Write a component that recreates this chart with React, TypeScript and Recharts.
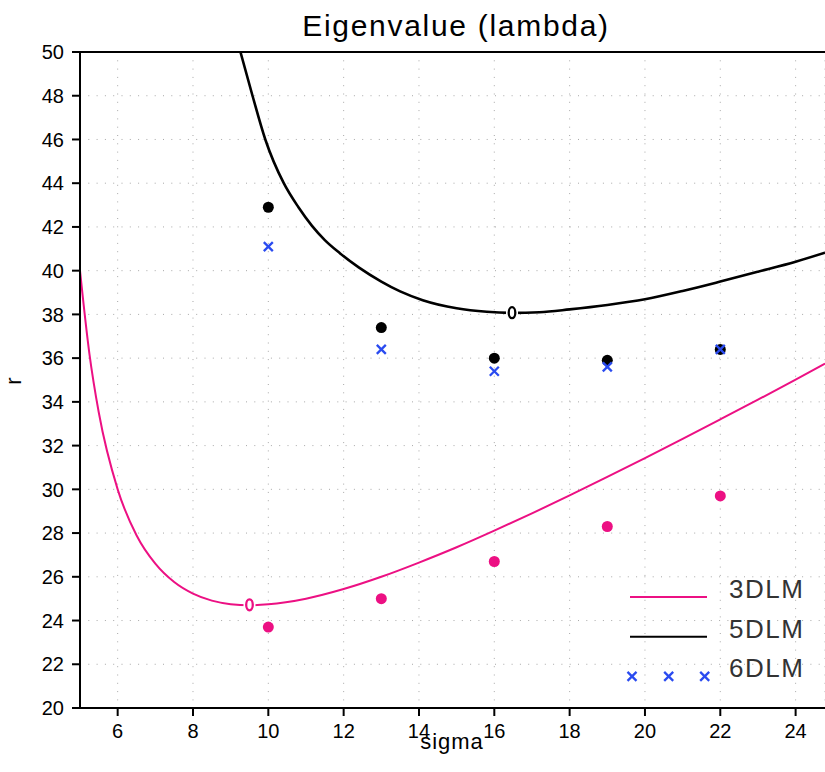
import React from "react";
import {
  ComposedChart,
  Line,
  Scatter,
  XAxis,
  YAxis,
  CartesianGrid,
  ReferenceLine,
  Legend,
} from "recharts";

// 3DLM critical curve
const sigma3 = [5, 5.25, 5.5, 6, 6.5, 7, 7.5, 8, 8.5, 9, 9.5, 10, 11, 12, 13, 14, 15, 16, 17, 18, 19, 20, 21, 22, 23, 24, 24.78];
const r3 = [40.0, 36.2, 33.5, 30.0, 27.9, 26.6, 25.76, 25.23, 24.91, 24.75, 24.7, 24.74, 25.0, 25.44, 26.0, 26.65, 27.35, 28.11, 28.9, 29.72, 30.57, 31.43, 32.31, 33.2, 34.1, 35.02, 35.75];

// 5DLM critical curve
const sigma5 = [9.26, 9.58, 9.92, 10.41, 10.8, 11.16, 11.5, 11.9, 12.4, 13.0, 13.5, 14.1, 15.0, 15.8, 16.47, 17.2, 18.0, 19.0, 20.0, 21.0, 22.0, 23.0, 24.0, 24.78];
const r5 = [50, 48, 46, 44, 42.9, 42.05, 41.4, 40.8, 40.15, 39.5, 39.05, 38.65, 38.28, 38.12, 38.07, 38.1, 38.23, 38.43, 38.69, 39.07, 39.5, 39.95, 40.41, 40.82];

// experiment points
const sigmaPts = [10, 13, 16, 19, 22];
const r3Pts = [23.7, 25.0, 26.7, 28.3, 29.7];
const r5Pts = [42.9, 37.4, 36.0, 35.9, 36.4];
const r6Pts = [41.1, 36.4, 35.4, 35.6, 36.4];

// "0" contour labels at the minima
const min3 = { x: 9.5, y: 24.72 };
const min5 = { x: 16.47, y: 38.08 };

const xTicks = [6, 8, 10, 12, 14, 16, 18, 20, 22, 24];
const yTicks = [20, 22, 24, 26, 28, 30, 32, 34, 36, 38, 40, 42, 44, 46, 48, 50];

const legendItems = [
  { name: "3DLM", color: "#ec1083", kind: "line" },
  { name: "5DLM", color: "#000000", kind: "line" },
  { name: "6DLM", color: "#2a4bf0", kind: "cross" },
];

const PINK = "#ec1083";
const BLUE = "#2a4bf0";
const FONT = "Liberation Sans, Arial, sans-serif";

const zip = (xs: number[], ys: number[]) => xs.map((x, i) => ({ x, y: ys[i] }));

const line3 = zip(sigma3, r3);
const line5 = zip(sigma5, r5);
const pts3 = zip(sigmaPts, r3Pts);
const pts5 = zip(sigmaPts, r5Pts);
const pts6 = zip(sigmaPts, r6Pts);

const Dot = (color: string) => (p: any) => <circle cx={p.cx} cy={p.cy} r={5.5} fill={color} />;

const Cross = (p: any) => {
  const s = 4.5;
  return (
    <g stroke={BLUE} strokeWidth={2.3}>
      <line x1={p.cx - s} y1={p.cy - s} x2={p.cx + s} y2={p.cy + s} />
      <line x1={p.cx - s} y1={p.cy + s} x2={p.cx + s} y2={p.cy - s} />
    </g>
  );
};

const ZeroLabel = (color: string) => (p: any) => (
  <g>
    <rect x={p.cx - 6} y={p.cy - 7} width={12} height={14} fill="#fff" />
    <ellipse cx={p.cx} cy={p.cy} rx={3.3} ry={5.5} fill="#fff" stroke={color} strokeWidth={2.3} />
  </g>
);

const XTick = (p: any) => (
  <text x={p.x} y={p.y} dy={14.5} textAnchor="middle" fontFamily={FONT} fontSize={20} fill="#000">
    {p.payload.value}
  </text>
);

const YTick = (p: any) => (
  <text x={p.x} y={p.y} dy={7.2} textAnchor="end" fontFamily={FONT} fontSize={20} fill="#000">
    {p.payload.value}
  </text>
);

const LegendBox = () => (
  <svg width={205} height={120}>
    {legendItems.map((it, i) => {
      const y = 27 + i * 39.7;
      return (
        <g key={it.name}>
          {it.kind === "line" ? (
            <line x1={10} x2={87} y1={y} y2={y} stroke={it.color} strokeWidth={2} />
          ) : (
            [12, 48.7, 84.7].map((cx) => <Cross key={cx} cx={cx} cy={y} />)
          )}
          <text x={109} y={y + 1} fontFamily={FONT} fontSize={26} letterSpacing={1.5} fill="#333">
            {it.name}
          </text>
        </g>
      );
    })}
  </svg>
);

export default function App() {
  return (
    <div style={{ position: "absolute", left: 0, top: 0, width: 825, height: 772, background: "#fff" }}>
      <ComposedChart width={825} height={772} margin={{ top: 52, right: 0, bottom: 0, left: 0 }}>
        <CartesianGrid stroke="#a8a8a8" strokeDasharray="1 7.3" />
        <XAxis
          type="number"
          dataKey="x"
          domain={[5, 24.78]}
          ticks={xTicks}
          allowDataOverflow
          height={64}
          tickSize={8}
          tickMargin={7}
          axisLine={{ stroke: "#000", strokeWidth: 2 }}
          tickLine={{ stroke: "#000", strokeWidth: 2 }}
          tick={XTick}
        />
        <YAxis
          type="number"
          dataKey="y"
          domain={[20, 50]}
          ticks={yTicks}
          allowDataOverflow
          width={80}
          tickSize={8}
          tickMargin={8}
          axisLine={{ stroke: "#000", strokeWidth: 2 }}
          tickLine={{ stroke: "#000", strokeWidth: 2 }}
          tick={YTick}
        />
        <ReferenceLine y={50} stroke="#000" strokeWidth={2} />
        <Line data={line3} dataKey="y" type="monotone" stroke={PINK} strokeWidth={2} dot={false} isAnimationActive={false} />
        <Line data={line5} dataKey="y" type="monotone" stroke="#000" strokeWidth={2.6} dot={false} isAnimationActive={false} />
        <Scatter data={pts3} dataKey="y" shape={Dot(PINK)} isAnimationActive={false} legendType="none" />
        <Scatter data={pts5} dataKey="y" shape={Dot("#000")} isAnimationActive={false} legendType="none" />
        <Scatter data={pts6} dataKey="y" shape={Cross} isAnimationActive={false} legendType="none" />
        <Scatter data={[min3]} dataKey="y" shape={ZeroLabel(PINK)} isAnimationActive={false} legendType="none" />
        <Scatter data={[min5]} dataKey="y" shape={ZeroLabel("#000")} isAnimationActive={false} legendType="none" />
        <Legend
          layout="horizontal"
          verticalAlign="middle"
          align="center"
          content={<LegendBox />}
          wrapperStyle={{ left: 620, top: 570, width: 205, height: 120 }}
        />
        <text x={456} y={36} textAnchor="middle" fontFamily={FONT} fontSize={30} letterSpacing={1.7} fill="#000">
          Eigenvalue (lambda)
        </text>
        <text x={452} y={749} textAnchor="middle" fontFamily={FONT} fontSize={22} letterSpacing={1} fill="#000">
          sigma
        </text>
        <text x={21} y={381} textAnchor="middle" fontFamily={FONT} fontSize={22} fill="#000" transform="rotate(-90 21 381)">
          r
        </text>
      </ComposedChart>
    </div>
  );
}
